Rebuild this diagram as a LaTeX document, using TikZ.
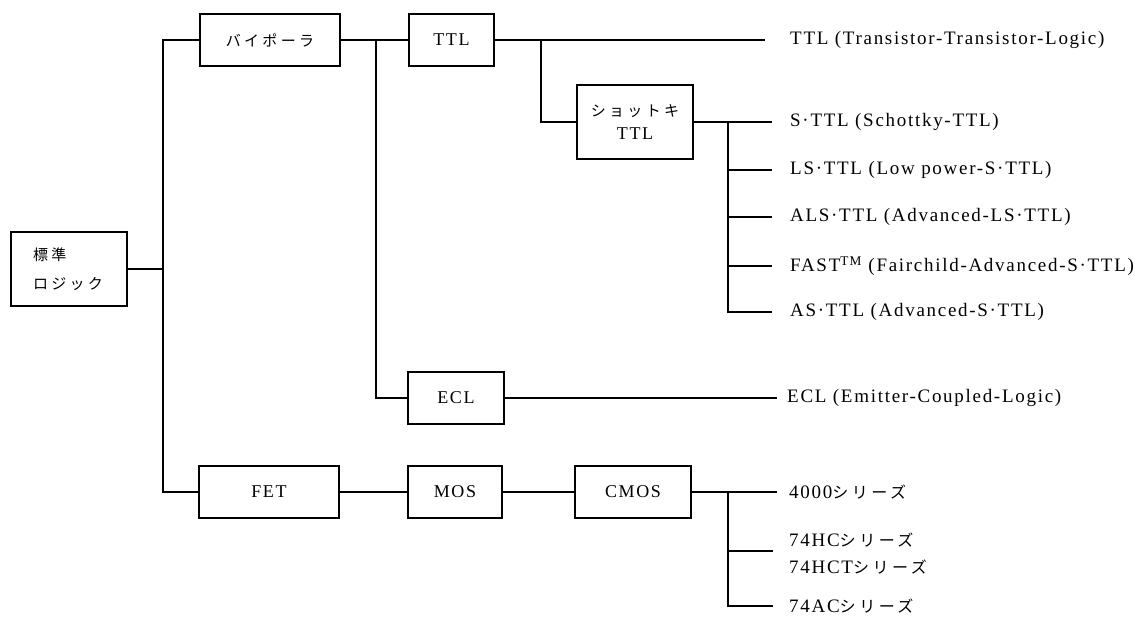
\documentclass[tikz,border=0pt]{standalone}
\usepackage{fontspec}
\setmainfont{Liberation Serif}
\newfontfamily\lat[LetterSpace=9]{Liberation Serif}
\newfontfamily\cjk[LetterSpace=22]{Noto Sans CJK JP}
\newcommand\jp[1]{{\cjk #1}}
\begin{document}
\begin{tikzpicture}[x=1pt,y=-1pt,
  box/.style={draw,line width=1.8pt,minimum width=#1,minimum height=52pt,inner sep=0pt,
    font=\fontsize{18}{20}\lat},
  lab/.style={anchor=west,inner sep=0pt,align=left,
    font=\fontsize{19}{27}\lat},
  ln/.style={line width=1.2pt}]
\useasboundingbox (0,0) rectangle (1135,616);
% boxes
\node[box=116,minimum height=74pt,text width=72pt,inner xsep=22pt,align=left,
  font=\fontsize{15}{29}\lat] (std) at (69,269) {\jp{標準}\\\jp{ロジック}};
\node[box=140] (bip) at (270,40) {\jp{\fontsize{15}{18}\selectfont バイポーラ}};
\node[box=85] (ttl) at (451.5,40) {TTL};
\node[box=116,minimum height=74pt,align=center,font=\fontsize{18}{23}\lat] (sch) at (635,122) {\jp{\fontsize{15}{18}\selectfont ショットキ}\\TTL};
\node[box=96] (ecl) at (456,398) {ECL};
\node[box=140] (fet) at (269,492) {FET};
\node[box=94] (mos) at (455,492) {MOS};
\node[box=116] (cmos) at (633,492) {CMOS};
% labels
\node[lab] (lttl) at (790,40) {TTL (Transistor-Transistor-Logic)};
\node[lab] (ls) at (790,122) {S·TTL (Schottky-TTL)};
\node[lab] (lls) at (790,170) {LS·TTL (Low power-S·TTL)};
\node[lab] (lals) at (790,217) {ALS·TTL (Advanced-LS·TTL)};
\node[lab] (lfast) at (790,266) {FAST\textsuperscript{TM} (Fairchild-Advanced-S·TTL)};
\node[lab] (las) at (790,312) {AS·TTL (Advanced-S·TTL)};
\node[lab] (lecl) at (787,398) {ECL (Emitter-Coupled-Logic)};
\node[lab] (l4000) at (789,492) {4000\jp{\fontsize{16}{18}\selectfont シリーズ}};
\node[lab] (lhc) at (789,554) {74HC\jp{\fontsize{16}{18}\selectfont シリーズ}\\74HCT\jp{\fontsize{16}{18}\selectfont シリーズ}};
\node[lab] (lac) at (789,606) {74AC\jp{\fontsize{16}{18}\selectfont シリーズ}};
% bus coordinates
\coordinate (b1t) at (163,40);
\coordinate (b1b) at (163,492);
\coordinate (b2) at (376,40);
\coordinate (b3) at (541,40);
\coordinate (b4t) at (728,122);
\coordinate (b4b) at (728,312);
\coordinate (b5t) at (728,492);
\coordinate (b5b) at (728,606);
% connectors
\draw[ln] (bip.west) -- (b1t) -- (b1b) -- (fet.west);
\draw[ln] (std.east) -- (std.east -| b1t);
\draw[ln] (bip.east) -- (ttl.west);
\draw[ln] (b2) |- (ecl.west);
\draw[ln] (b3) |- (sch.west);
\draw[ln] (ttl.east) -- ([xshift=-25pt]lttl.west);
\draw[ln] (sch.east) -- ([xshift=-18pt]ls.west);
\draw[ln] (b4t) -- (b4b) -- ([xshift=-18pt]las.west);
\draw[ln] (lls.west -| b4t) -- ([xshift=-18pt]lls.west);
\draw[ln] (lals.west -| b4t) -- ([xshift=-18pt]lals.west);
\draw[ln] (lfast.west -| b4t) -- ([xshift=-18pt]lfast.west);
\draw[ln] (ecl.east) -- ([xshift=-10pt]lecl.west);
\draw[ln] (fet.east) -- (mos.west);
\draw[ln] (mos.east) -- (cmos.west);
\draw[ln] (cmos.east) -- ([xshift=-12pt]l4000.west);
\draw[ln] (b5t) -- (b5b) -- ([xshift=-16pt]lac.west);
\draw[ln] (728,551) -- (773,551);
\end{tikzpicture}
\end{document}
